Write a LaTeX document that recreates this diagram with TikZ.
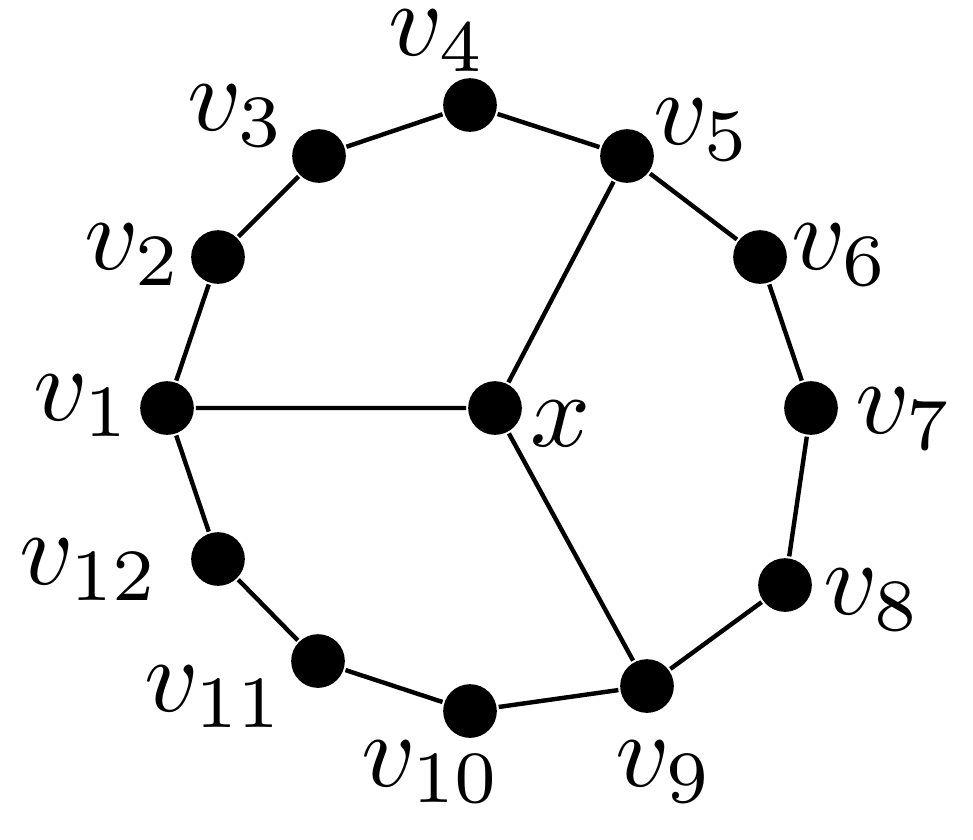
\documentclass[tikz,border=0pt]{standalone}
\begin{document}
\begin{tikzpicture}[x=0.095pt,y=-0.095pt,
  vert/.style={circle,fill=black,inner sep=0pt,minimum size=5.1pt},
  lab/.style={inner sep=0pt},
  edge/.style={line width=0.42pt}]
\useasboundingbox (0,0) rectangle (973,839);
\node[vert] (v1) at (167,408) {};
\node[vert] (v2) at (218,257) {};
\node[vert] (v3) at (319,156) {};
\node[vert] (v4) at (470,105) {};
\node[vert] (v5) at (627,156) {};
\node[vert] (v6) at (760,257) {};
\node[vert] (v7) at (811,408) {};
\node[vert] (v8) at (785,585) {};
\node[vert] (v9) at (647,686) {};
\node[vert] (v10) at (470,711) {};
\node[vert] (v11) at (318,661) {};
\node[vert] (v12) at (218,559) {};
\node[vert] (x) at (495,408) {};
\draw[edge] (v1) -- (v2) -- (v3) -- (v4) -- (v5) -- (v6) -- (v7) -- (v8) -- (v9) -- (v10) -- (v11) -- (v12) -- (v1);
\draw[edge] (v1) -- (x) -- (v5);
\draw[edge] (x) -- (v9);
\node[lab] (l1) at (83,406) {$v_1$};
\node[lab] (l2) at (134,255) {$v_2$};
\node[lab] (l3) at (237,116) {$v_3$};
\node[lab] (l4) at (438,41) {$v_4$};
\node[lab] (l5) at (703,130) {$v_5$};
\node[lab] (l6) at (841,255) {$v_6$};
\node[lab] (l7) at (905,419) {$v_7$};
\node[lab] (l8) at (873,600) {$v_8$};
\node[lab] (l9) at (665,772) {$v_9$};
\node[lab] (l10) at (432,772) {$v_{10}$};
\node[lab] (l11) at (215,697) {$v_{11}$};
\node[lab] (l12) at (90,570) {$v_{12}$};
\node[lab] (lx) at (561,424) {$x$};
\end{tikzpicture}
\end{document}
